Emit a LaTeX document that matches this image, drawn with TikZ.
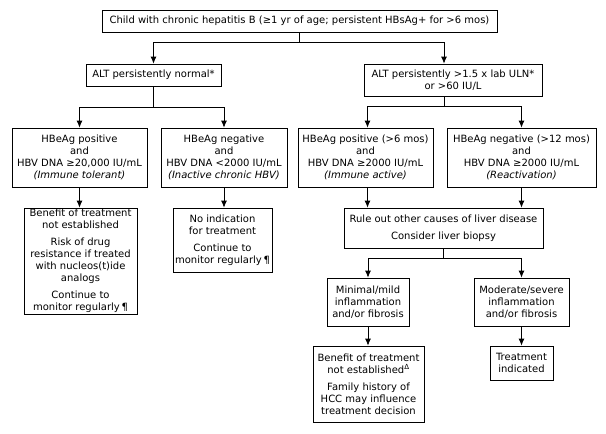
\documentclass[tikz,border=0pt]{standalone}
\usepackage{fontspec}
\setmainfont{DejaVu Sans}
\usetikzlibrary{arrows.meta}

\begin{document}
\begin{tikzpicture}[x=1pt,y=-1pt]

\tikzstyle{every node}=[font=\fontsize{10}{12}\selectfont]
\tikzstyle{box}=[draw, line width=0.8pt, align=center, inner sep=0pt]
\tikzstyle{link}=[->, >={Latex[length=7pt,width=6pt]}, line width=0.8pt]

\useasboundingbox (0,0) rectangle (606,434);

% first row
\node[box, minimum width=395pt, minimum height=22pt] (child) at (299.5,21)
{Child with chronic hepatitis B (≥1 yr of age; persistent HBsAg+ for >6 mos)};

% ALT level
\node[box, minimum width=135pt, minimum height=22pt] (altn) at (153.5,75)
{ALT persistently normal*};
\node[box, minimum width=178pt, minimum height=32pt] (alth) at (453,80)
{ALT persistently >1.5 x lab ULN*\\ or >60 IU/L};

\draw[link] (child.south) -- ++(0,10) -| (altn.north);
\draw[link] (child.south) -- ++(0,10) -| ([xshift=-9pt]alth.north);

% HBeAg level
\pgfmathsetmacro\y{157.5}
\node[box, minimum width=135pt, minimum height=59pt] (tolerant) at (79.5,\y)
{HBeAg positive\\and\\HBV DNA ≥20,000 IU/mL\\\textit{(Immune tolerant)}};
\node[box, minimum width=126pt, minimum height=59pt] (inactive) at (224,\y)
{HBeAg negative\\and\\HBV DNA <2000 IU/mL\\\textit{(Inactive chronic HBV)}};
\node[box, minimum width=135pt, minimum height=59pt] (active) at (365.5,\y)
{HBeAg positive (>6 mos)\\and\\HBV DNA ≥2000 IU/mL\\\textit{(Immune active)}};
\node[box, minimum width=149pt, minimum height=59pt] (reactivation) at (521.5,\y)
{HBeAg negative (>12 mos)\\and\\HBV DNA ≥2000 IU/mL\\\textit{(Reactivation)}};

\draw[link] (altn.south) -- ++(0,21) -| (tolerant.north);
\draw[link] (altn.south) -- ++(0,21) -| (inactive.north);
\draw[link] ([xshift=-9pt]alth.south) -- ++(0,10) -| ([xshift=2pt]active.north);
\draw[link] ([xshift=-9pt]alth.south) -- ++(0,10) -| (reactivation.north);

% what to do
\node[box, minimum width=113pt, minimum height=106pt] (tolerant_do) at (80.5,261)
{Benefit of treatment\\not established\\[5pt]Risk of drug\\resistance if treated\\with nucleos(t)ide\\analogs\\[5pt]Continue to\\monitor regularly\,¶};
\node[box, minimum width=99pt, minimum height=64pt] (inactive_do) at (222.5,240)
{No indication\\for treatment\\[5pt]Continue to\\monitor regularly\,¶};
\node[box, minimum width=199pt, minimum height=40pt] (ruleout) at (443.5,228)
{Rule out other causes of liver disease\\[5pt]Consider liver biopsy};

\draw[link] (tolerant.south) -- (tolerant.south |- tolerant_do.north);
\draw[link] (inactive.south) -- (inactive.south |- inactive_do.north);
\draw[link] ([xshift=2pt]active.south) -- ([xshift=2pt]active.south |- ruleout.north);
\draw[link] (reactivation.south) -- (reactivation.south |- ruleout.north);

% biopsy result
\node[box, minimum width=82pt, minimum height=48pt] (mild) at (368,302)
{Minimal/mild\\inflammation\\and/or fibrosis};
\node[box, minimum width=95pt, minimum height=48pt] (severe) at (521.5,302)
{Moderate/severe\\inflammation\\and/or fibrosis};

\draw[link] (ruleout.south) -- ++(0,10) -| (mild.north);
\draw[link] (ruleout.south) -- ++(0,10) -| (severe.north);

\node[box, minimum width=111pt, minimum height=76pt] (mild_do) at (368.5,384)
{Benefit of treatment\\not established\textsuperscript{Δ}\\[5pt]Family history of\\HCC may influence\\treatment decision};
\node[box, minimum width=63pt, minimum height=34pt] (severe_do) at (521.5,363)
{Treatment\\indicated};

\draw[link] (mild.south) -- (mild.south |- mild_do.north);
\draw[link] (severe.south) -- (severe.south |- severe_do.north);

\end{tikzpicture}
\end{document}
